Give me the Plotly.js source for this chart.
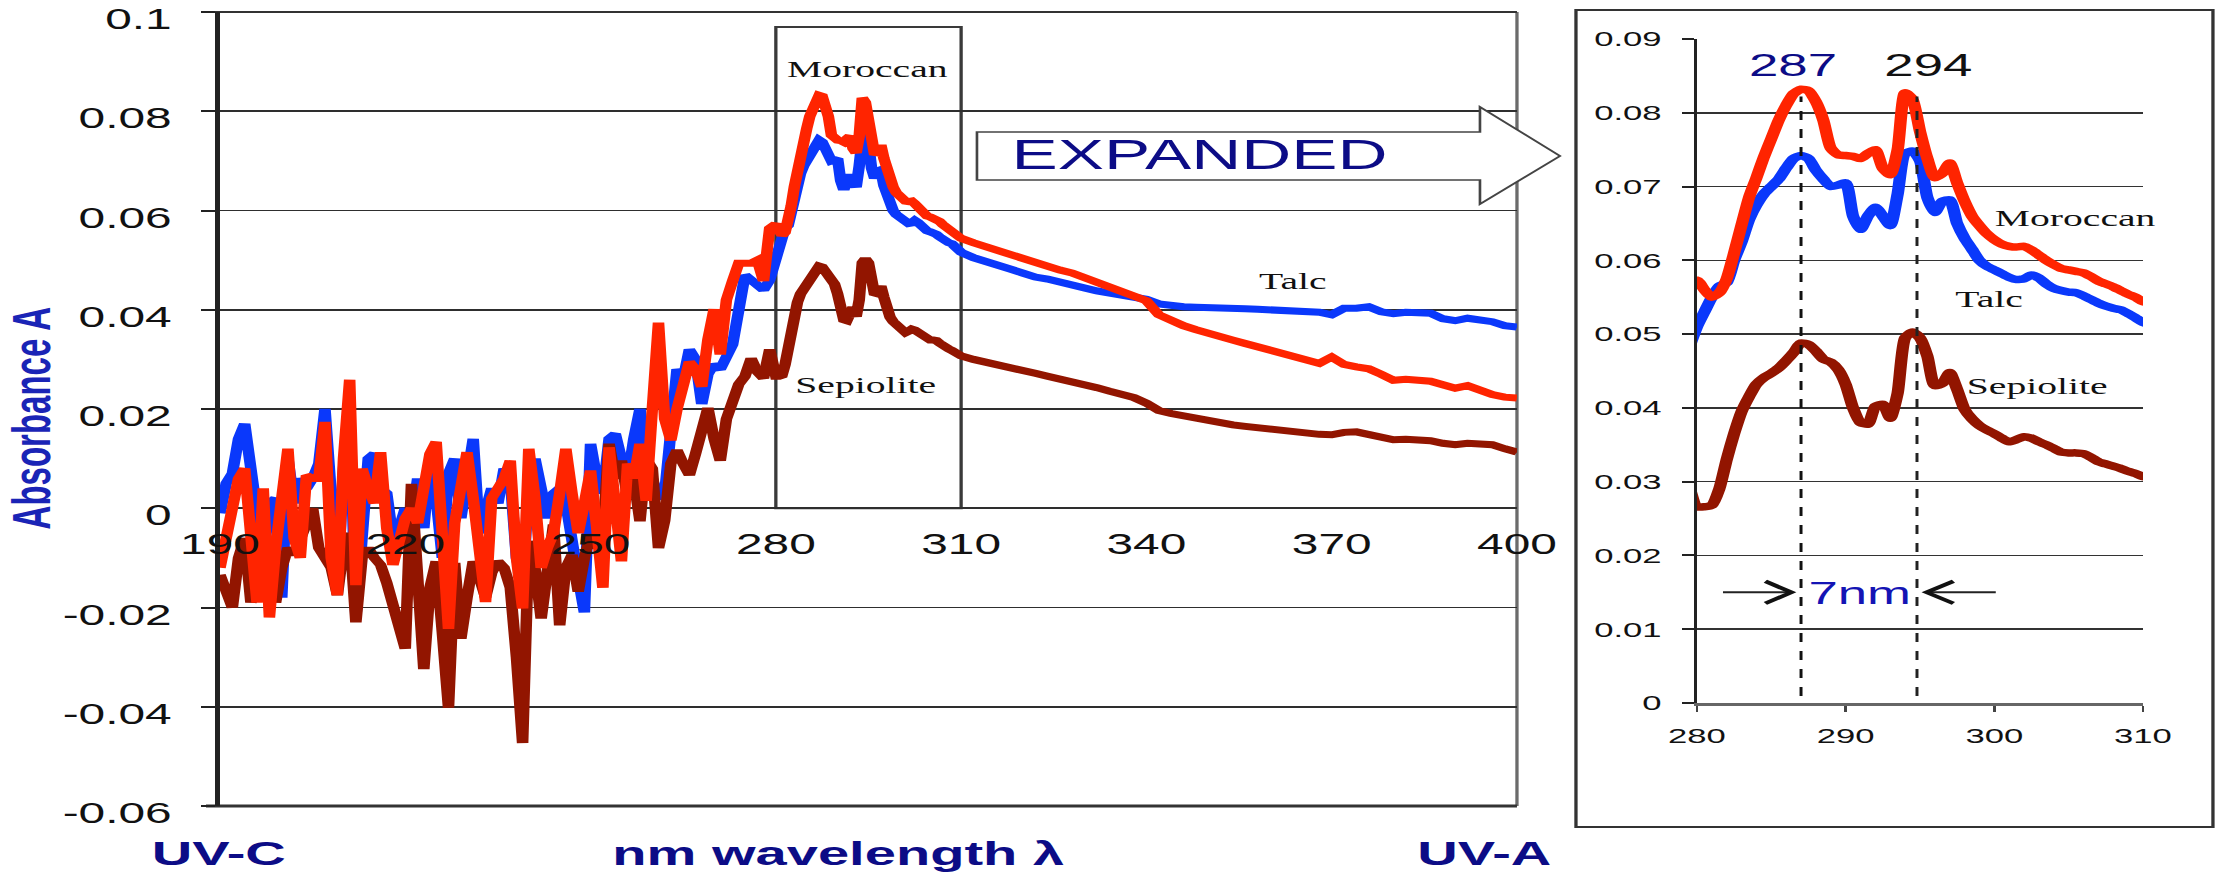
<!DOCTYPE html>
<html>
<head>
<meta charset="utf-8">
<script src="https://cdn.plot.ly/plotly-3.0.1.min.js"></script>
<style>
  html, body { margin: 0; padding: 0; background: #ffffff; overflow: hidden; }
  #wrap { width: 2216px; height: 873px; overflow: hidden; position: relative; }
  #plot { height: 873px; transform-origin: 0 0; }
</style>
</head>
<body>
<div id="wrap"><div id="plot"></div></div>
<script>
// ---------------- DATA ----------------
const wavelengthUV = [
  190,191,192,193,194,195,196,197,198,199,
  200,201,202,203,204,205,206,207,208,209,
  210,211,212,213,214,215,216,217,218,219,
  220,221,222,223,224,225,226,227,228,229,
  230,231,232,233,234,235,236,237,238,239,
  240,241,242,243,244,245,246,247,248,249,
  250,251,252,253,254,255,256,257,258,259,
  260,261,262,263,264,265,266,267,268,269,
  270,271,272,273,274,275,276,277,278,279];
const wavelengthPeak = [
  280,280.5,281,281.5,282,282.5,283,283.5,284,284.5,
  285,285.5,286,286.5,287,287.5,288,288.5,289,289.5,
  290,290.5,291,291.5,292,292.5,293,293.5,294,294.5,
  295,295.5,296,296.5,297,297.5,298,298.5,299,299.5,
  300,300.5,301,301.5,302,302.5,303,303.5,304,304.5,
  305,305.5,306,306.5,307,307.5,308,308.5,309,309.5,
  310];
const wavelengthTail = [
  312,314,316,318,320,322,324,326,328,330,
  332,334,336,338,340,342,344,346,348,350,
  352,354,356,358,360,362,364,366,368,370,
  372,374,376,378,380,382,384,386,388,390,
  392,394,396,398,400];

const talcUV = [
  -0.001,0.005,0.007,0.014,0.017,0.008,-0.002,-0.010,0.001,0.002,
  -0.018,0.010,0.001,0.006,0.004,0.006,0.009,0.020,0.003,-0.016,
  0.008,0.020,-0.022,-0.005,0.010,0.011,0.004,0.003,-0.006,-0.004,
  0.000,-0.003,0.006,-0.004,0.010,0.002,-0.010,0.007,0.010,-0.002,
  0.005,0.014,-0.005,-0.001,0.004,0.001,0.008,0.006,-0.010,-0.015,
  0.004,0.010,0.003,-0.002,0.003,0.004,0.001,-0.008,-0.014,-0.021,
  0.013,0.006,0.003,0.014,0.015,0.010,0.006,0.014,0.020,0.010,
  0.005,0.002,0.003,0.018,0.028,0.026,0.032,0.030,0.021,0.027,
  0.029,0.028,0.030,0.033,0.040,0.047,0.046,0.045,0.044,0.046];
const talcPeak = [
  0.051,0.053,0.055,0.0565,0.057,0.060,0.0625,0.0655,0.0675,0.069,
  0.070,0.071,0.0725,0.0738,0.0742,0.0738,0.0722,0.071,0.070,0.0702,
  0.0705,0.066,0.0642,0.0660,0.0672,0.0660,0.0647,0.0690,0.0745,0.0748,
  0.0735,0.0685,0.0665,0.0680,0.0682,0.0650,0.0630,0.0615,0.0600,0.0592,
  0.0587,0.0582,0.0577,0.0574,0.0575,0.0580,0.0576,0.0568,0.0562,0.0559,
  0.0557,0.0556,0.0552,0.0547,0.0542,0.0538,0.0535,0.0533,0.0528,0.0522,
  0.0516];
const talcTail = [
  0.0505,0.0498,0.0492,0.0482,0.0474,0.0466,0.0462,0.0455,0.0450,0.0444,
  0.0438,0.0433,0.0429,0.0425,0.0421,0.0412,0.0408,0.0406,0.0405,0.0405,
  0.0404,0.0403,0.0402,0.0401,0.0400,0.0400,0.0399,0.0397,0.0395,0.0390,
  0.0403,0.0403,0.0406,0.0396,0.0392,0.0395,0.0394,0.0393,0.0382,0.0378,
  0.0383,0.0381,0.0376,0.0368,0.0365];

const moroccanUV = [
  -0.012,-0.006,0.001,0.006,0.008,-0.005,-0.019,0.004,-0.022,-0.008,
  0.005,0.012,-0.006,-0.010,0.0066,0.006,0.006,0.0174,-0.010,-0.0175,
  0.010,0.0259,-0.0155,0.008,0.004,0.001,0.0113,-0.004,-0.0114,-0.006,
  -0.002,0.000,-0.003,0.004,0.011,0.0134,-0.005,-0.0243,-0.003,0.004,
  0.0113,0.002,-0.010,-0.0189,0.002,0.004,0.006,0.0096,-0.010,-0.0202,
  0.012,0.002,-0.012,-0.008,-0.005,0.003,0.012,0.003,-0.005,0.001,
  0.0076,-0.004,-0.016,0.0123,-0.002,-0.0107,0.009,0.006,0.013,0.0015,
  0.020,0.0374,0.018,0.0137,0.020,0.024,0.0295,0.028,0.0245,0.034,
  0.0401,0.031,0.042,0.0458,0.0494,0.0494,0.0494,0.050,0.0458,0.0564];
const moroccanPeak = [
  0.0573,0.0560,0.0550,0.0556,0.0575,0.0610,0.0648,0.0685,0.0712,0.0740,
  0.0765,0.0790,0.0810,0.0826,0.0832,0.0830,0.0815,0.0790,0.0752,0.0743,
  0.0742,0.0741,0.0738,0.0745,0.0750,0.0725,0.0716,0.0750,0.0827,0.0818,
  0.0775,0.0738,0.0712,0.0718,0.0732,0.0705,0.0680,0.0660,0.0647,0.0636,
  0.0628,0.0622,0.0619,0.0618,0.0619,0.0614,0.0607,0.0600,0.0594,0.0589,
  0.0587,0.0585,0.0583,0.0578,0.0572,0.0568,0.0564,0.0559,0.0554,0.0550,
  0.0544];
const moroccanTail = [
  0.0535,0.0527,0.0521,0.0512,0.0503,0.0494,0.0487,0.0480,0.0474,0.0465,
  0.0455,0.0445,0.0436,0.0426,0.0418,0.0390,0.0377,0.0368,0.0360,0.0352,
  0.0345,0.0339,0.0332,0.0325,0.0318,0.0312,0.0305,0.0298,0.0292,0.0305,
  0.0290,0.0285,0.0281,0.0270,0.0258,0.0260,0.0257,0.0256,0.0249,0.0242,
  0.0247,0.0236,0.0229,0.0224,0.0222];

const sepioliteUV = [
  -0.0134,-0.017,-0.020,-0.010,-0.006,-0.019,-0.014,-0.010,-0.008,-0.019,
  -0.012,-0.008,-0.0094,-0.006,-0.002,0.000,-0.008,-0.010,-0.012,-0.0175,
  -0.008,-0.005,-0.023,-0.010,-0.008,-0.010,-0.0114,-0.015,-0.0195,-0.022,
  -0.0283,0.0049,-0.012,-0.0324,-0.016,-0.0107,-0.025,-0.0402,-0.011,-0.0263,
  -0.018,-0.0107,-0.014,-0.018,-0.013,-0.0107,-0.012,-0.016,-0.030,-0.0473,
  -0.0066,-0.012,-0.0222,-0.010,-0.0033,-0.0236,-0.012,-0.0094,-0.0168,-0.010,
  -0.0053,-0.008,-0.005,0.013,0.006,0.0096,0.002,0.006,-0.0026,0.010,
  0.008,-0.008,-0.0025,0.009,0.0117,0.009,0.0067,0.011,0.016,0.0202,
  0.014,0.0096,0.018,0.0216,0.025,0.0266,0.0302,0.0275,0.0262,0.032];
const sepiolitePeak = [
  0.0266,0.0266,0.0268,0.0290,0.0330,0.0365,0.0395,0.0415,0.0432,0.0441,
  0.0447,0.0454,0.0464,0.0475,0.0488,0.0486,0.0477,0.0466,0.0462,0.0452,
  0.0432,0.0400,0.0380,0.0378,0.0402,0.0405,0.0386,0.0420,0.0495,0.0503,
  0.0495,0.0470,0.0430,0.0433,0.0448,0.0425,0.0398,0.0385,0.0376,0.0370,
  0.0365,0.0359,0.0354,0.0357,0.0361,0.0359,0.0354,0.0350,0.0345,0.0340,
  0.0339,0.0339,0.0338,0.0333,0.0327,0.0324,0.0321,0.0318,0.0314,0.0311,
  0.0307];
const sepioliteTail = [
  0.0300,0.0295,0.0290,0.0284,0.0277,0.0272,0.0266,0.0261,0.0256,0.0250,
  0.0243,0.0236,0.0229,0.0223,0.0212,0.0197,0.0191,0.0186,0.0181,0.0176,
  0.0172,0.0168,0.0165,0.0162,0.0160,0.0158,0.0155,0.0152,0.0149,0.0148,
  0.0153,0.0154,0.0148,0.0142,0.0138,0.0139,0.0138,0.0136,0.0131,0.0128,
  0.0131,0.0130,0.0128,0.0120,0.0113];

const seriesNames = ['Talc', 'Sepiolite', 'Moroccan'];
const mainXTicks = [190, 220, 250, 280, 310, 340, 370, 400];
const mainXTickLabels = ['190', '220', '250', '280', '310', '340', '370', '400'];
const mainYTicks = [-0.06, -0.04, -0.02, 0, 0.02, 0.04, 0.06, 0.08, 0.1];
const mainYTickLabels = ['-0.06', '-0.04', '-0.02', '0', '0.02', '0.04', '0.06', '0.08', '0.1'];
const insetXTicks = [280, 290, 300, 310];
const insetXTickLabels = ['280', '290', '300', '310'];
const insetYTicks = [0, 0.01, 0.02, 0.03, 0.04, 0.05, 0.06, 0.07, 0.08, 0.09];
const insetYTickLabels = ['0', '0.01', '0.02', '0.03', '0.04', '0.05', '0.06', '0.07', '0.08', '0.09'];
const expandedRange = [280, 310];
const peakLines = [287, 294.8];
const peakLabels = ['287', '294'];
const separationLabel = '7nm';
const yTitle = 'Absorbance A';
const bottomLabels = ['UV-C', 'nm wavelength λ', 'UV-A'];
const arrowLabel = 'EXPANDED';

// ---------------- LAYOUT ----------------
const K = 1.65;                 // horizontal stretch of the original figure
const H = 873;
const W = 2216 / K;
const fx = px => px / 2216;     // paper x from picture pixel
const fy = py => (H - py) / H;  // paper y from picture pixel

const wavelength = wavelengthUV.concat(wavelengthPeak, wavelengthTail);
const seriesValues = [
  talcUV.concat(talcPeak, talcTail),
  sepioliteUV.concat(sepiolitePeak, sepioliteTail),
  moroccanUV.concat(moroccanPeak, moroccanTail)
];
const seriesColors = ['#0a38fb', '#921500', '#ff2400'];

const traces = [];
seriesNames.forEach((n, i) => {
  traces.push({ x: wavelength, y: seriesValues[i], name: n, type: 'scatter', mode: 'lines',
    xaxis: 'x', yaxis: 'y', line: { color: seriesColors[i], width: 7 }, hoverinfo: 'skip' });
});
seriesNames.forEach((n, i) => {
  traces.push({ x: wavelength, y: seriesValues[i], name: n + ' (expanded)', type: 'scatter', mode: 'lines',
    xaxis: 'x2', yaxis: 'y2', line: { color: seriesColors[i], width: 7.5, shape: 'spline', smoothing: 0.6 },
    hoverinfo: 'skip' });
});

const yDom = [fy(806), fy(12)];
const zeroFrac = yDom[0] + (yDom[1] - yDom[0]) * (0 - (-0.06)) / (0.1 - (-0.06));

const tickFont = { family: 'Liberation Sans, Arial, sans-serif', size: 29, color: '#111' };
const insetTickFont = { family: 'Liberation Sans, Arial, sans-serif', size: 21, color: '#111' };
const serif = { family: 'Liberation Serif, Times New Roman, serif', size: 24, color: '#111' };
const sans = 'Liberation Sans, Arial, sans-serif';

// arrow "EXPANDED" outline (picture pixels)
const arrowPts = [[977,132],[1480,132],[1480,107],[1560,156],[1480,204],[1480,180],[977,180]];
const arrowPath = 'M ' + arrowPts.map(p => fx(p[0]).toFixed(5) + ',' + fy(p[1]).toFixed(5)).join(' L ') + ' Z';

const shapes = [
  // main frame
  { type: 'line', xref: 'paper', yref: 'paper', x0: fx(1517), x1: fx(1517), y0: yDom[0], y1: yDom[1], line: { color: '#6b6b6b', width: 2 }, layer: 'below' },
  { type: 'line', xref: 'paper', yref: 'paper', x0: fx(206), x1: fx(1517), y0: yDom[1], y1: yDom[1], line: { color: '#333', width: 2 }, layer: 'below' },
  { type: 'line', xref: 'paper', yref: 'paper', x0: fx(206), x1: fx(1517), y0: yDom[0], y1: yDom[0], line: { color: '#333', width: 3 }, layer: 'below' },
  // box around expanded range
  { type: 'rect', xref: 'x', yref: 'y', x0: expandedRange[0], x1: expandedRange[1], y0: 0, y1: 0.097,
    line: { color: '#3a3a3a', width: 2 }, layer: 'below' },
  // inset frame
  { type: 'rect', xref: 'paper', yref: 'paper', x0: fx(1576), x1: fx(2213), y0: fy(827), y1: fy(10),
    line: { color: '#333', width: 2 }, layer: 'below' },
  // EXPANDED arrow
  { type: 'path', xref: 'paper', yref: 'paper', path: arrowPath, fillcolor: '#ffffff',
    line: { color: '#444', width: 1.6 }, layer: 'above' },
  // dashed peak lines
  { type: 'line', xref: 'x2', yref: 'y2', x0: peakLines[0], x1: peakLines[0], y0: -0.0015, y1: 0.0822,
    line: { color: '#111', width: 1.8, dash: 'dash' }, layer: 'above' },
  { type: 'line', xref: 'x2', yref: 'y2', x0: peakLines[1], x1: peakLines[1], y0: -0.0015, y1: 0.0822,
    line: { color: '#222', width: 1.8, dash: 'dash' }, layer: 'above' },
  // 7nm arrows
  { type: 'path', xref: 'x2', yref: 'y2', path: 'M 281.75,0.015 L 286.3,0.015', line: { color: '#222', width: 2 }, layer: 'above' },
  { type: 'path', xref: 'x2', yref: 'y2', path: 'M 284.6,0.0165 L 286.35,0.015 L 284.6,0.0135', line: { color: '#111', width: 3.5 }, layer: 'above' },
  { type: 'path', xref: 'x2', yref: 'y2', path: 'M 300.1,0.015 L 295.5,0.015', line: { color: '#222', width: 2 }, layer: 'above' },
  { type: 'path', xref: 'x2', yref: 'y2', path: 'M 297.25,0.0165 L 295.45,0.015 L 297.25,0.0135', line: { color: '#111', width: 3.5 }, layer: 'above' }
];

function ann(text, xref, yref, x, y, font, extra) {
  return Object.assign({ text: text, xref: xref, yref: yref, x: x, y: y, showarrow: false,
    xanchor: 'center', yanchor: 'middle', font: font }, extra || {});
}
const navy = '#0c0c86';
const annotations = [
  ann(yTitle, 'paper', 'paper', fx(32), fy(418), { family: sans, size: 33, color: '#1a24b6', weight: 'bold' }, { textangle: -90 }),
  ann(bottomLabels[0], 'paper', 'paper', fx(218), fy(853), { family: sans, size: 34, color: navy, weight: 'bold' }),
  ann(bottomLabels[1], 'paper', 'paper', fx(839), fy(853), { family: sans, size: 34, color: navy, weight: 'bold' }),
  ann(bottomLabels[2], 'paper', 'paper', fx(1484), fy(853), { family: sans, size: 34, color: navy, weight: 'bold' }),
  ann(arrowLabel, 'paper', 'paper', fx(1199), fy(154), { family: sans, size: 42, color: navy }),
  ann(seriesNames[2], 'x', 'y', 294.8, 0.0885, serif),
  ann(seriesNames[0], 'x', 'y', 363.7, 0.0458, serif),
  ann(seriesNames[1], 'x', 'y', 294.6, 0.0248, serif),
  ann(seriesNames[2], 'x2', 'y2', 305.4, 0.0657, serif),
  ann(seriesNames[0], 'x2', 'y2', 299.7, 0.0548, serif),
  ann(seriesNames[1], 'x2', 'y2', 302.9, 0.0430, serif),
  ann(peakLabels[0], 'x2', 'y2', 286.4, 0.0865, { family: sans, size: 32, color: navy }),
  ann(peakLabels[1], 'x2', 'y2', 295.5, 0.0865, { family: sans, size: 32, color: '#111' }),
  ann(separationLabel, 'x2', 'y2', 290.95, 0.0149, { family: sans, size: 32, color: '#1414b4' })
];

const layout = {
  width: W, height: H, autosize: false,
  margin: { l: 0, r: 0, t: 0, b: 0, pad: 0 },
  paper_bgcolor: '#ffffff', plot_bgcolor: 'rgba(0,0,0,0)',
  showlegend: false,
  font: { family: sans, color: '#111' },
  xaxis: {
    domain: [fx(220), fx(1517)], range: [190, 400], anchor: 'free', position: zeroFrac,
    tickmode: 'array', tickvals: mainXTicks, ticktext: mainXTickLabels, ticks: '',
    showline: false, showgrid: false, zeroline: false, tickfont: tickFont,
    ticklabelstandoff: 16, ticklabeloverflow: 'allow', automargin: false, fixedrange: true
  },
  yaxis: {
    domain: yDom, range: [-0.06, 0.10001], anchor: 'x',
    tickmode: 'array', tickvals: mainYTicks, ticktext: mainYTickLabels,
    ticks: 'outside', ticklen: 14 / K, tickwidth: 2, tickcolor: '#222',
    showline: true, linewidth: 3, linecolor: '#222',
    showgrid: true, gridcolor: '#2e2e2e', gridwidth: 1.6, zeroline: false,
    tickfont: tickFont, ticklabelstandoff: 12, ticklabelshift: 7, ticklabeloverflow: 'allow',
    automargin: false, fixedrange: true
  },
  xaxis2: {
    domain: [fx(1697), fx(2143)], range: [280, 310], anchor: 'y2',
    tickmode: 'array', tickvals: insetXTicks, ticktext: insetXTickLabels,
    ticks: 'outside', ticklen: 6, tickwidth: 1.6, tickcolor: '#444',
    showline: true, linewidth: 3, linecolor: '#666', showgrid: false, zeroline: false,
    tickfont: insetTickFont, ticklabelstandoff: 6, ticklabeloverflow: 'allow', automargin: false, fixedrange: true
  },
  yaxis2: {
    domain: [fy(703), fy(39)], range: [0, 0.09], anchor: 'x2',
    tickmode: 'array', tickvals: insetYTicks, ticktext: insetYTickLabels,
    ticks: 'outside', ticklen: 12 / K, tickwidth: 2, tickcolor: '#222',
    showline: true, linewidth: 2, linecolor: '#222',
    showgrid: true, gridcolor: '#333', gridwidth: 1.6, zeroline: false,
    tickfont: insetTickFont, ticklabelstandoff: 8, ticklabeloverflow: 'allow', automargin: false, fixedrange: true
  },
  shapes: shapes,
  annotations: annotations
};

const el = document.getElementById('plot');
el.style.width = W + 'px';
el.style.transform = 'scaleX(' + K + ')';
Plotly.newPlot(el, traces, layout, { staticPlot: true, displayModeBar: false, responsive: false });
</script>
</body>
</html>
